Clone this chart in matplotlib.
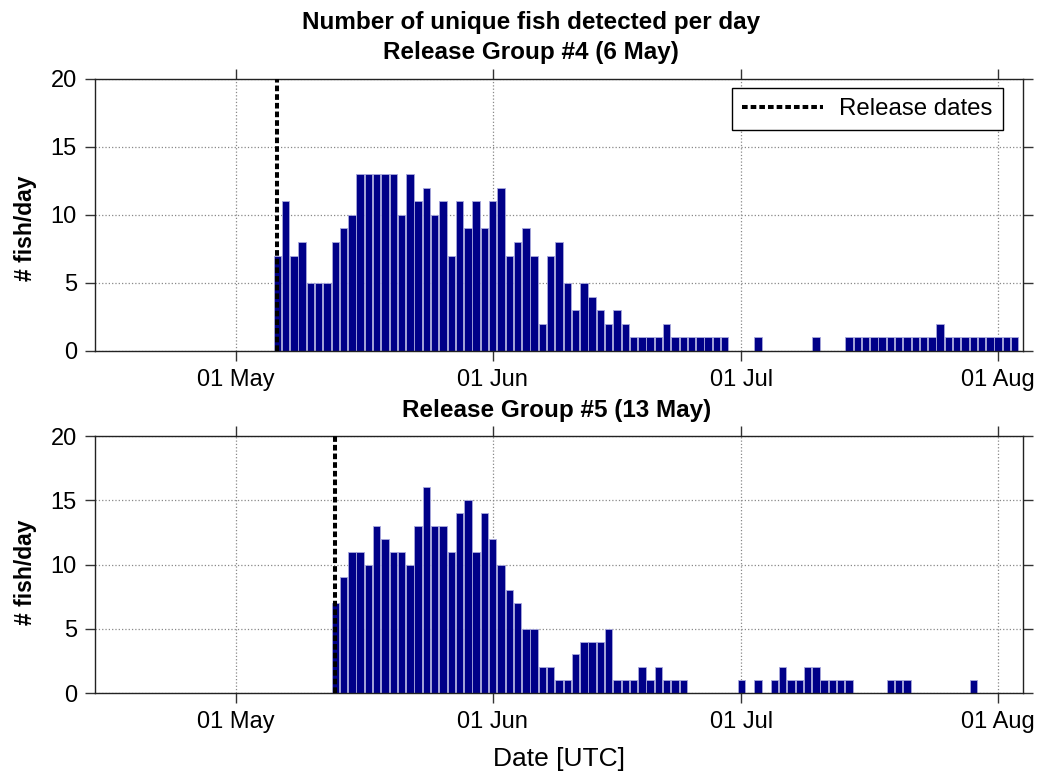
import matplotlib
matplotlib.use("Agg")
import matplotlib.pyplot as plt
import matplotlib.dates as mdates
import numpy as np
import datetime as dt

plt.rcParams['font.family'] = ['Liberation Sans', 'DejaVu Sans']

# ---- data ----
year = 2013
release4 = dt.date(year, 5, 6)
release5 = dt.date(year, 5, 13)

# daily counts starting at the release date (zeros = no detections)
counts4 = [7, 11, 7, 8, 5, 5, 5, 8, 9, 10, 13, 13, 13, 13, 13, 10, 13, 11, 12, 10,
           11, 7, 11, 9, 11, 9, 11, 12, 7, 8, 9, 7,
           2, 7, 8, 5, 3, 5, 4, 3, 2, 3, 2, 1, 1, 1, 1, 2, 1, 1, 1, 1, 1, 1, 1,
           0, 0, 0, 1, 0, 0, 0, 0, 0, 0, 1, 0, 0, 0,
           1, 1, 1, 1, 1, 1, 1, 1, 1, 1, 1, 2, 1, 1, 1, 1, 1, 1, 1, 1, 1]
counts5 = [7, 9, 11, 11, 10, 13, 12, 11, 11, 10, 13, 16, 13, 13, 11, 14, 15, 11, 14, 12,
           10, 8, 7, 5, 5,
           2, 2, 1, 1, 3, 4, 4, 4, 5, 1, 1, 1, 2, 1, 2, 1, 1, 1,
           0, 0, 0, 0, 0, 0, 1, 0, 1, 0, 1, 2, 1, 1, 2, 2, 1, 1, 1, 1,
           0, 0, 0, 0, 1, 1, 1, 0, 0, 0, 0, 0, 0, 0, 1]

titles = ["Number of unique fish detected per day\nRelease Group #4 (6 May)",
          "Release Group #5 (13 May)"]
ylabel = "# fish/day"
xlabel = "Date [UTC]"
legend_label = "Release dates"
xlim = (dt.date(year, 4, 14), dt.date(year, 8, 4))
xticks = [dt.date(year, 5, 1), dt.date(year, 6, 1), dt.date(year, 7, 1), dt.date(year, 8, 1)]
yticks = [0, 5, 10, 15, 20]

bar_color = '#000088'

fig = plt.figure(figsize=(10.41, 7.76), dpi=100)
W, H = 1041, 776
ax1 = fig.add_axes([95 / W, 1 - 351 / H, 928 / W, 272.3 / H])
ax2 = fig.add_axes([95 / W, 1 - 693 / H, 928 / W, 257 / H])

for ax, rel, counts, title, tx, ly in [(ax1, release4, counts4, titles[0], 0.47, 0.45),
                                       (ax2, release5, counts5, titles[1], 0.497, 0.47)]:
    dates = [rel + dt.timedelta(days=i) for i in range(len(counts))]
    d = [x for x, c in zip(dates, counts) if c > 0]
    v = [c for c in counts if c > 0]
    ax.bar(mdates.date2num(d), v, width=0.88, color=bar_color,
           edgecolor='#a8a8dc', linewidth=0.6, zorder=2)
    ax.axvline(mdates.date2num(rel), 0, 1, color='black', lw=2.9,
               dashes=(1.4, 0.75), zorder=3, label=legend_label)
    ax.set_xlim(mdates.date2num(xlim[0]), mdates.date2num(xlim[1]))
    ax.set_ylim(0, 20)
    ax.set_yticks(yticks)
    ax.set_xticks(mdates.date2num(xticks))
    ax.xaxis.set_major_formatter(mdates.DateFormatter('%d %b'))
    ax.grid(True, linestyle=':', color='#888888', linewidth=0.9)
    ax.set_axisbelow(True)
    ax.tick_params(direction='out', top=True, right=True, length=7, width=1,
                   labelsize=17, pad=6, color='#333333')
    for s in ax.spines.values():
        s.set_color('#222222')
        s.set_linewidth(1.0)
    ax.set_ylabel(ylabel, fontsize=16.5, fontweight='bold')
    ax.yaxis.set_label_coords(-0.063, ly)
    ax.set_title(title, fontsize=17.5, fontweight='bold', pad=14,
                 linespacing=1.4, x=tx)

leg = ax1.legend(loc='upper right', fontsize=17.3, frameon=True, fancybox=False,
                 edgecolor='black', framealpha=1, handlelength=3.4,
                 handletextpad=0.65, borderpad=0.42, borderaxespad=0,
                 bbox_to_anchor=(0.978, 0.966))
leg.get_frame().set_linewidth(1.0)

ax2.set_xlabel(xlabel, fontsize=19, labelpad=10)

fig.savefig('out.png', dpi=100)
